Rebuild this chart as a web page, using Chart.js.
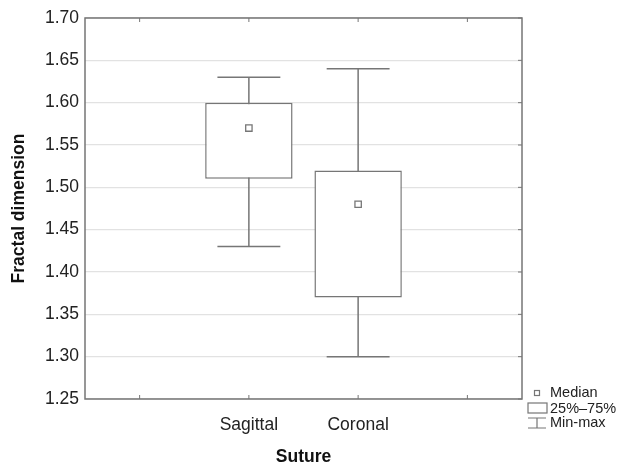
<!DOCTYPE html>
<html>
<head>
<meta charset="utf-8">
<script src="https://cdn.jsdelivr.net/npm/chart.js@4"></script>
<style>
  html, body { margin: 0; padding: 0; background: #fff; }
  #wrap { width: 618px; height: 466px; }
</style>
</head>
<body>
<div id="wrap"><canvas id="myC"></canvas></div>
<script>
const categorias = ['', 'Sagittal', 'Coronal', ''];
const minimos = [null, 1.43, 1.30, null];
const q1 = [null, 1.51, 1.37, null];
const medianas = [null, 1.57, 1.48, null];
const q3 = [null, 1.60, 1.52, null];
const maximos = [null, 1.63, 1.64, null];
const yTicks = [1.25, 1.30, 1.35, 1.40, 1.45, 1.50, 1.55, 1.60, 1.65, 1.70];

const cinza = '#767676';
const fonte = "'Liberation Sans', Arial, sans-serif";

// whiskers + frame + legend drawn with the chart's scales
const boxExtras = {
  id: 'boxExtras',
  beforeDatasetsDraw(chart) {
    const { ctx, scales: { x, y } } = chart;
    const meta = chart.getDatasetMeta(0);
    ctx.save();
    ctx.strokeStyle = cinza;
    ctx.lineWidth = 1.5;
    categorias.forEach((c, i) => {
      if (minimos[i] == null) return;
      const bar = meta.data[i];
      const cx = x.getPixelForValue(i);
      const capHalf = bar.width * 0.36;
      const yMin = y.getPixelForValue(minimos[i]);
      const yMax = y.getPixelForValue(maximos[i]);
      ctx.beginPath();
      ctx.moveTo(cx, yMin); ctx.lineTo(cx, yMax);
      ctx.moveTo(cx - capHalf, yMin); ctx.lineTo(cx + capHalf, yMin);
      ctx.moveTo(cx - capHalf, yMax); ctx.lineTo(cx + capHalf, yMax);
      ctx.stroke();
    });
    ctx.restore();
  },
  afterDraw(chart) {
    const { ctx, chartArea: a, scales: { x, y } } = chart;
    ctx.save();
    ctx.strokeStyle = cinza;
    ctx.lineWidth = 1.5;
    ctx.strokeRect(a.left, a.top, a.right - a.left, a.bottom - a.top);
    ctx.lineWidth = 1;
    ctx.beginPath();
    x.ticks.forEach((t, i) => {
      const px = x.getPixelForTick(i);
      ctx.moveTo(px, a.top); ctx.lineTo(px, a.top + 4);
      ctx.moveTo(px, a.bottom); ctx.lineTo(px, a.bottom - 4);
    });
    y.ticks.forEach((t, i) => {
      const py = y.getPixelForTick(i);
      ctx.moveTo(a.right, py); ctx.lineTo(a.right - 4, py);
    });
    ctx.stroke();

    // legend
    const lx = a.right + 15;
    const tx = a.right + 28;
    ctx.lineWidth = 1.2;
    ctx.strokeRect(lx - 2.5, a.bottom - 8.5, 5, 5);
    ctx.strokeRect(a.right + 6, a.bottom + 4, 19, 10);
    ctx.beginPath();
    ctx.moveTo(lx - 9, a.bottom + 19); ctx.lineTo(lx + 9, a.bottom + 19);
    ctx.moveTo(lx, a.bottom + 19); ctx.lineTo(lx, a.bottom + 29);
    ctx.moveTo(lx - 9, a.bottom + 29); ctx.lineTo(lx + 9, a.bottom + 29);
    ctx.stroke();
    ctx.fillStyle = '#222';
    ctx.font = '14.5px ' + fonte;
    ctx.textBaseline = 'middle';
    ctx.textAlign = 'left';
    ctx.fillText('Median', tx, a.bottom - 6);
    ctx.fillText('25%\u201375%', tx, a.bottom + 10);
    ctx.fillText('Min-max', tx, a.bottom + 24);
    ctx.restore();
  }
};

const ctx = document.querySelector('#myC').getContext('2d');

new Chart(ctx, {
  type: 'bar',
  data: {
    labels: categorias,
    datasets: [{
      label: '25%-75%',
      data: categorias.map((c, i) => q1[i] == null ? null : [q1[i], q3[i]]),
      backgroundColor: '#fff',
      borderColor: cinza,
      borderWidth: 1.5,
      borderSkipped: false,
      barPercentage: 0.8,
      categoryPercentage: 1,
      grouped: false,
      order: 2
    }, {
      type: 'line',
      label: 'Median',
      data: medianas,
      showLine: false,
      pointStyle: 'rect',
      pointRadius: 4.5,
      pointBorderWidth: 1.3,
      pointBackgroundColor: '#fff',
      pointBorderColor: cinza,
      order: 1
    }]
  },
  options: {
    responsive: true,
    maintainAspectRatio: false,
    animation: false,
    layout: { padding: { top: 18, right: 96, left: 0, bottom: 0 } },
    scales: {
      x: {
        offset: true,
        grid: { display: false },
        border: { display: false },
        ticks: { color: '#222', font: { family: fonte, size: 17.5 }, padding: 8, maxRotation: 0 },
        title: {
          display: true,
          text: 'Suture',
          color: '#111',
          font: { family: fonte, size: 17.5, weight: 'bold', lineHeight: 1 },
          padding: { top: 0, bottom: 0 }
        },
        afterFit: (s) => { s.height = 67; }
      },
      y: {
        min: 1.25,
        max: 1.70,
        afterBuildTicks: (s) => { s.ticks = yTicks.map(v => ({ value: v })); },
        grid: { color: '#e2e2e2', lineWidth: 1.3, drawTicks: false },
        border: { display: false },
        ticks: {
          color: '#222',
          font: { family: fonte, size: 17.5 },
          padding: 6,
          callback: (v) => Number(v).toFixed(2)
        },
        title: {
          display: true,
          text: 'Fractal dimension',
          color: '#111',
          font: { family: fonte, size: 17.5, weight: 'bold' },
          padding: { top: 9, bottom: 0 }
        },
        afterFit: (s) => { s.width = 85; }
      }
    },
    plugins: {
      legend: { display: false },
      tooltip: { enabled: false }
    }
  },
  plugins: [boxExtras]
});
</script>
</body>
</html>
